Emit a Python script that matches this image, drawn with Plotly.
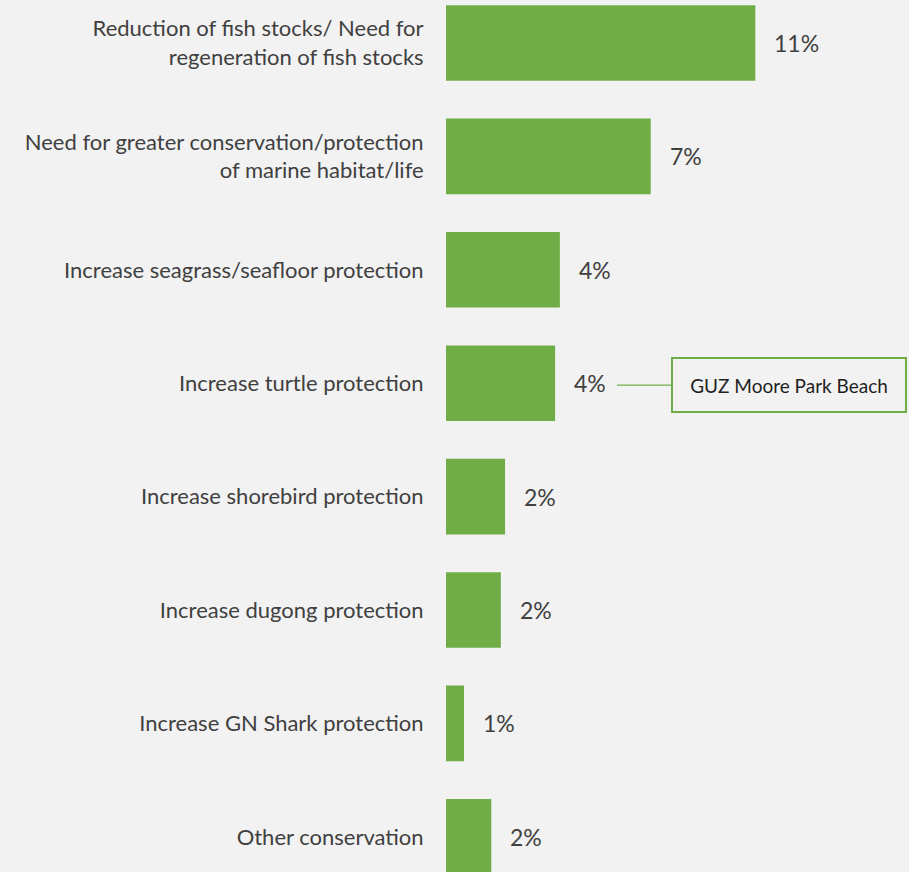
import plotly.graph_objects as go

# Chart data
categories = [
    "Reduction of fish stocks/ Need for<br>regeneration of fish stocks",
    "Need for greater conservation/protection<br>of marine habitat/life",
    "Increase seagrass/seafloor protection",
    "Increase turtle protection",
    "Increase shorebird protection",
    "Increase dugong protection",
    "Increase GN Shark protection",
    "Other conservation",
]
values = [0.110, 0.0728, 0.0405, 0.0388, 0.0210, 0.0195, 0.0064, 0.0161]
value_labels = ["11%", "7%", "4%", "4%", "2%", "2%", "1%", "2%"]
callout_category = "Increase turtle protection"
callout_text = "GUZ Moore Park Beach"

GREEN = "#70AD47"
BG = "#F2F2F2"
FONT = "Lato, Carlito, Calibri, sans-serif"

fig = go.Figure(
    go.Bar(
        x=values,
        y=categories,
        orientation="h",
        marker=dict(color=GREEN, line=dict(width=0)),
        hoverinfo="skip",
    )
)

# value labels to the right of each bar
for cat, val, lab in zip(categories, values, value_labels):
    fig.add_annotation(
        x=val, y=cat, text=lab, showarrow=False,
        xanchor="left", yanchor="middle", xshift=17,
        font=dict(family=FONT, size=23, color="#404040"),
    )

# callout box with leader line
fig.add_annotation(
    x=(617 - 446) / 463, xref="paper", y=callout_category, yref="y",
    text=callout_text, showarrow=True, arrowhead=0, arrowwidth=1.3,
    arrowcolor=GREEN, ax=54, ay=0, xanchor="left", yanchor="middle",
    yshift=-2,
    width=228, height=48, borderpad=2, borderwidth=2, bordercolor=GREEN,
    bgcolor=BG, align="center",
    font=dict(family=FONT, size=19, color="#1f1f1f"),
)

fig.update_layout(
    width=909, height=872,
    paper_bgcolor=BG, plot_bgcolor=BG,
    margin=dict(l=446, r=0, t=0, b=0),
    bargap=0.333,
    showlegend=False,
    font=dict(family=FONT, size=22, color="#404040"),
)
fig.update_xaxes(range=[0, 463 / 2812], visible=False, showgrid=False, zeroline=False)
fig.update_yaxes(
    categoryorder="array", categoryarray=categories,
    range=[7.31, -0.379], showgrid=False, zeroline=False, showline=False,
    ticks="outside", ticklen=17, tickcolor="rgba(0,0,0,0)",
    tickfont=dict(family=FONT, size=22, color="#404040"),
)

# drop the default page margin so the figure sits at the window's corner
fig.write_html(
    "out.html",
    config={"displayModeBar": False},
    post_script="document.body.style.margin='0';document.body.style.background='#F2F2F2';",
)
